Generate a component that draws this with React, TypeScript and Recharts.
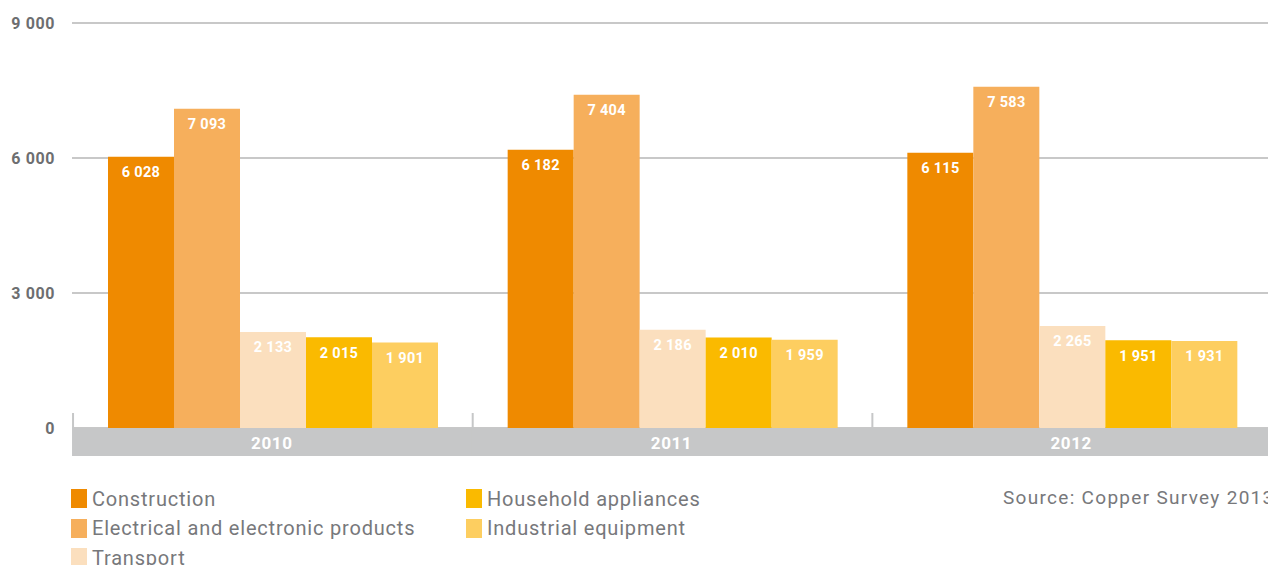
import React from 'react';
import { BarChart, Bar, XAxis, YAxis, CartesianGrid, LabelList } from 'recharts';

const years = ['2010', '2011', '2012'];
const construction = [6028, 6182, 6115];
const electrical = [7093, 7404, 7583];
const transport = [2133, 2186, 2265];
const household = [2015, 2010, 1951];
const industrial = [1901, 1959, 1931];
const yTicks = [0, 3000, 6000, 9000];

const seriesNames = [
  'Construction',
  'Electrical and electronic products',
  'Transport',
  'Household appliances',
  'Industrial equipment',
];
const seriesKeys = ['construction', 'electrical', 'transport', 'household', 'industrial'];
const seriesColors = ['#EF8A00', '#F6AF5C', '#FBDFBE', '#FABA00', '#FDCE60'];
const sourceText = 'Source: Copper Survey 2013';

const data = years.map((y, i) => ({
  year: y,
  construction: construction[i],
  electrical: electrical[i],
  transport: transport[i],
  household: household[i],
  industrial: industrial[i],
}));

const fmt = (v: any) => String(v).replace(/\B(?=(\d{3})+(?!\d))/g, ' ');

const FONT = 'Roboto, "DejaVu Sans", sans-serif';

const XTick = (props: any) => {
  const { x, y, payload } = props;
  const half = 199.8;
  return (
    <g>
      <rect x={x - half} y={y} width={half * 2 + 1} height={28} fill="#C6C7C8" />
      <line x1={x - half + 1} x2={x - half + 1} y1={y - 15} y2={y} stroke="#C6C7C8" strokeWidth={2} />
      <text
        x={x}
        y={y + 15}
        textAnchor="middle"
        dominantBaseline="central"
        fill="#ffffff"
        fontFamily={FONT}
        fontWeight={700}
        fontSize={17}
        letterSpacing={0.6}
      >
        {payload.value}
      </text>
    </g>
  );
};

export default function App() {
  return (
    <div style={{ position: 'absolute', left: 0, top: 0, width: 1268, height: 565, overflow: 'hidden', background: '#fff' }}>
      <BarChart
        width={1272}
        height={565}
        data={data}
        margin={{ top: 23, right: 1, bottom: 109, left: 0 }}
        barGap={0}
        barCategoryGap={36}
      >
        <CartesianGrid vertical={false} stroke="#C8C8C8" strokeWidth={2} />
        <XAxis
          dataKey="year"
          axisLine={false}
          tickLine={false}
          tickSize={0}
          tickMargin={0}
          height={28}
          interval={0}
          tick={<XTick />}
        />
        <YAxis
          width={72}
          domain={[0, 9000]}
          ticks={yTicks}
          axisLine={false}
          tickLine={false}
          tickSize={0}
          tickMargin={17}
          tickFormatter={fmt}
          tick={{ fill: '#6D6E70', fontSize: 16, fontWeight: 700, fontFamily: FONT, letterSpacing: 0.6 }}
        />
        {seriesKeys.map((k, i) => (
          <Bar key={k} dataKey={k} name={seriesNames[i]} fill={seriesColors[i]} isAnimationActive={false}>
            <LabelList
              dataKey={k}
              position="insideTop"
              offset={10}
              formatter={fmt}
              fill="#ffffff"
              fontSize={14.5}
              fontWeight={700}
              fontFamily={FONT}
              letterSpacing={0.3}
            />
          </Bar>
        ))}
      </BarChart>
      <div
        style={{
          position: 'absolute',
          left: 71,
          top: 484,
          display: 'grid',
          gridTemplateRows: 'repeat(3, 29.5px)',
          gridAutoFlow: 'column',
          gridAutoColumns: '395px',
          fontFamily: FONT,
          fontSize: 20,
          letterSpacing: 0.8,
          color: '#77787B',
        }}
      >
        {seriesNames.map((n, i) => (
          <div key={n} style={{ display: 'flex', alignItems: 'center', height: 29.5 }}>
            <span style={{ display: 'inline-block', width: 16, height: 19, background: seriesColors[i], marginRight: 5 }} />
            <span style={{ whiteSpace: 'nowrap' }}>{n}</span>
          </div>
        ))}
      </div>
      <div
        style={{
          position: 'absolute',
          left: 1003,
          top: 486,
          fontFamily: FONT,
          fontSize: 19,
          letterSpacing: 1.3,
          color: '#77787B',
          whiteSpace: 'nowrap',
        }}
      >
        {sourceText}
      </div>
    </div>
  );
}
